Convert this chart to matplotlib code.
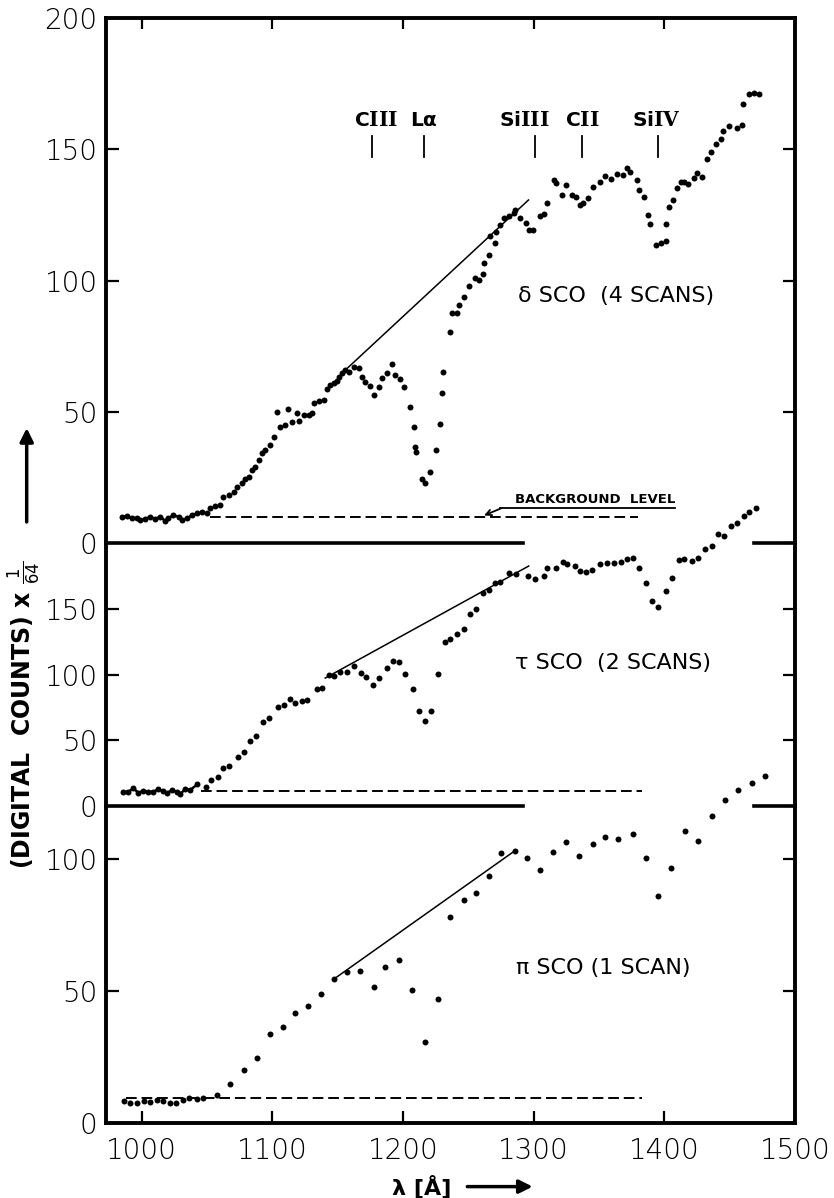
import matplotlib
matplotlib.use("Agg")
import matplotlib.pyplot as plt

plt.rcParams['font.family'] = ['DejaVu Sans']
plt.rcParams['mathtext.fontset'] = 'custom'
plt.rcParams['mathtext.rm'] = 'DejaVu Sans'
plt.rcParams['mathtext.bf'] = 'DejaVu Serif:bold'
plt.rcParams['mathtext.it'] = 'DejaVu Sans:italic'

# --- data (wavelength in Angstrom, counts / 64) ---
delta_wl = [984.6, 988.5, 992.3, 996.1, 998.7, 1002.5, 1006.4, 1010.2, 1014.0, 1017.8, 1020.4,
            1024.2, 1028.1, 1030.6, 1034.5, 1038.3, 1042.1, 1046.0, 1049.8, 1052.3, 1056.2, 1060.0,
            1062.5, 1066.4, 1070.2, 1072.8, 1076.6, 1079.1, 1081.7, 1084.3, 1086.8, 1089.4,
            1091.9, 1094.5, 1098.3, 1100.9, 1103.4, 1106.0, 1109.8, 1112.3, 1114.9, 1118.7,
            1120.0, 1123.8, 1127.7, 1130.2, 1131.5, 1135.3, 1139.2, 1141.7, 1144.3, 1146.8,
            1149.4, 1150.7, 1153.2, 1155.8, 1158.3, 1162.2, 1166.0, 1168.5, 1171.1, 1174.9,
            1177.5, 1181.3, 1183.9, 1187.7, 1191.5, 1194.1, 1197.9, 1200.5, 1205.6, 1208.1,
            1209.4, 1210.2, 1214.5, 1217.1, 1220.9, 1225.5, 1228.6, 1229.8, 1230.6, 1235.7,
            1237.5, 1241.3, 1242.6, 1246.4, 1250.3, 1255.4, 1257.9, 1261.2, 1261.8, 1265.6,
            1266.9, 1270.7, 1271.5, 1274.5, 1277.6, 1280.9, 1284.7, 1286.0, 1289.3, 1294.4,
            1296.2, 1299.5, 1304.7, 1308.2, 1310.3, 1315.4, 1317.4, 1321.8, 1325.1, 1329.4,
            1332.0, 1335.8, 1337.9, 1341.4, 1345.5, 1350.6, 1354.2, 1359.3, 1363.9, 1368.5,
            1371.1, 1374.1, 1378.7, 1380.5, 1384.3, 1387.4, 1389.4, 1393.3, 1397.1, 1400.9,
            1401.5, 1403.5, 1406.8, 1409.4, 1412.4, 1415.0, 1418.1, 1422.7, 1425.2, 1429.0,
            1432.4, 1435.4, 1439.3, 1443.1, 1445.1, 1449.5, 1455.9, 1459.7, 1460.5, 1464.8,
            1468.6, 1472.5]
delta_counts = [10.1, 10.4, 9.5, 9.7, 8.8, 9.3, 10.1, 9.3, 10.1, 8.6, 9.5, 10.7, 10.1, 8.8, 9.5,
                10.6, 11.4, 12.0, 11.4, 13.3, 14.2, 14.5,
                17.7, 18.4, 19.6, 21.5, 22.8, 24.3, 25.3, 27.9, 29.2, 31.7,
                34.2, 35.5, 37.4, 40.6, 49.9, 44.4, 45.0, 51.0, 46.3, 49.7,
                46.7, 48.8, 48.8, 49.5, 53.3, 54.3, 54.5, 58.6, 60.3, 60.9,
                61.9, 63.4, 64.7, 66.0, 65.3, 67.3, 66.6, 63.2, 61.5, 59.9,
                56.4, 59.6, 62.8, 64.7, 68.3, 64.1, 62.4, 59.6, 52.0, 44.4,
                36.8, 34.9, 24.3, 23.1, 27.3, 35.7, 45.4, 57.1, 65.2, 80.6,
                87.6, 87.6, 90.7, 93.9, 98.0, 100.9, 100.3, 102.6, 106.6, 109.8,
                117.0, 114.5, 118.7, 121.2, 123.7, 124.6, 125.9, 126.9, 123.7, 121.8,
                119.3, 119.3, 124.6, 125.3, 129.5, 138.4, 137.1, 132.6, 136.4, 132.6,
                132.0, 128.8, 129.7, 131.4, 135.8, 137.7, 139.9, 138.6, 140.6, 140.3,
                142.8, 141.5, 138.4, 134.5, 132.0, 125.0, 121.6, 113.6, 114.5, 115.1,
                121.5, 128.2, 130.7, 135.2, 137.7, 137.7, 136.8, 139.0, 141.1, 139.6,
                146.2, 148.8, 152.1, 153.8, 156.8, 158.9, 158.2, 159.3, 167.1, 171.2,
                171.6, 171.2]

tau_wl = [985.9, 989.8, 993.6, 997.4, 1001.3, 1005.1, 1008.9, 1012.7, 1016.6, 1019.1, 1023.0,
          1026.8, 1029.3, 1033.2, 1037.0, 1042.6, 1049.3, 1053.1, 1058.0, 1062.5, 1067.1,
          1073.5, 1077.9, 1083.0, 1087.6, 1092.7, 1097.3, 1103.9, 1108.5, 1113.1, 1117.5,
          1122.6, 1126.4, 1134.1, 1137.9, 1143.0, 1146.8, 1151.9, 1157.0, 1162.7, 1168.0,
          1171.9, 1176.7, 1181.6, 1187.7, 1192.3, 1197.1, 1201.7, 1207.4, 1211.9, 1217.1,
          1221.7, 1226.5, 1231.9, 1236.2, 1241.3, 1246.4, 1251.0, 1255.9, 1261.0, 1266.1,
          1270.7, 1274.5, 1280.9, 1286.8, 1295.7, 1300.8, 1307.7, 1310.3, 1316.7, 1322.3,
          1325.6, 1331.5, 1335.8, 1339.7, 1344.8, 1351.1, 1356.2, 1361.4, 1366.5, 1371.6,
          1375.9, 1380.5, 1385.6, 1390.7, 1395.3, 1400.9, 1406.1, 1411.2, 1415.0, 1421.4,
          1426.0, 1431.1, 1436.7, 1441.3, 1445.6, 1450.7, 1455.3, 1460.9, 1464.8, 1469.9]
tau_counts = [10.9, 10.9, 13.4, 10.1, 11.6, 10.9, 10.9, 12.7, 11.4, 9.6, 12.2, 10.9, 9.1, 12.7,
              12.2, 16.5, 14.7, 19.8, 21.8, 28.7, 30.7, 37.6, 41.4, 49.8, 53.4, 63.6, 66.9,
              75.3, 76.8, 81.4, 78.1, 80.1, 80.9, 89.0, 89.8, 99.7, 99.2, 101.7, 102.0, 106.8,
              101.2, 97.9, 92.3, 97.2, 105.0, 110.1, 109.9, 100.7, 89.3, 72.0, 64.8, 72.0,
              100.7, 125.2, 127.4, 131.0, 134.8, 145.8, 149.6, 161.8, 164.3, 169.4, 170.7,
              177.1, 176.3, 175.0, 172.5, 175.0, 181.4, 180.9, 186.0, 184.0, 182.7, 178.9,
              178.1, 179.6, 184.0, 185.2, 184.7, 185.7, 188.3, 188.8, 181.4, 169.4, 156.0,
              151.6, 163.6, 173.8, 187.3, 187.8, 186.5, 189.0, 195.9, 198.0, 206.8, 205.6,
              213.2, 215.2, 221.0, 224.0, 226.6]

pi_wl = [986.4, 991.0, 996.7, 1001.8, 1006.4, 1011.5, 1016.6, 1021.7, 1026.3, 1031.9, 1036.5,
         1042.1, 1046.7, 1057.4, 1067.7, 1078.4, 1088.1, 1097.8, 1108.0, 1117.5, 1127.2,
         1137.1, 1146.8, 1157.0, 1167.3, 1177.5, 1186.4, 1197.1, 1206.8, 1217.1, 1226.5,
         1236.2, 1246.9, 1255.9, 1266.1, 1275.3, 1285.5, 1294.9, 1305.2, 1314.9, 1324.8,
         1334.5, 1345.5, 1354.5, 1364.4, 1376.2, 1386.1, 1395.1, 1405.3, 1415.8, 1425.7,
         1436.7, 1446.4, 1456.6, 1466.8, 1476.8]
pi_counts = [8.3, 7.7, 7.7, 8.3, 8.1, 8.7, 8.5, 7.7, 7.5, 8.7, 9.6, 9.0, 9.3, 10.6, 14.8, 20.1,
             24.7, 33.7, 36.5, 41.5, 44.3, 48.9, 54.4, 57.0, 57.5, 51.6, 59.2, 61.8, 50.4, 30.6,
             46.8, 77.9, 84.5, 87.0, 93.6, 102.2, 102.8, 100.3, 95.9, 102.5, 106.3, 100.9,
             105.7, 108.1, 107.6, 109.5, 100.3, 86.0, 96.7, 110.4, 106.8, 116.4, 122.3, 125.9,
             128.7, 131.4]

# drawn continuum (start, end)
delta_cont_wl, delta_cont = [1157.0, 1296.0], [66.5, 130.7]
tau_cont_wl, tau_cont = [1140.4, 1296.2], [97.4, 182.7]
pi_cont_wl, pi_cont = [1146.8, 1286.0], [54.4, 103.2]

# background level (dashed)
bg_level = [10.0, 11.4, 9.4]
bg_start = [1052.0, 1045.0, 988.0]
bg_end = [1380.0, 1383.0, 1383.0]

star_labels = ["δ SCO  (4 SCANS)", "τ SCO  (2 SCANS)", "π SCO (1 SCAN)"]
star_label_pos = [(1363, 94.3), (1361, 109.0), (1353, 58.6)]

line_names = [r"C$\mathbf{III}$", "Lα", r"Si$\mathbf{III}$", r"C$\mathbf{II}$", r"Si$\mathbf{IV}$"]
line_wl = [1176, 1216, 1301, 1337, 1395]
line_label_wl = [1179, 1216, 1293, 1337, 1394]

ylims = [200, 200, 120]
yticks = [[0, 50, 100, 150, 200], [0, 50, 100, 150], [0, 50, 100]]
xticks = [1000, 1100, 1200, 1300, 1400, 1500]

XMIN, XMAX = 972.6, 1500.0
SPLIT_END = 1292.0     # zero line between panels is drawn only up to here
RIGHT_STUB = 1469.0    # plus a short stub at the right edge

fig = plt.figure(figsize=(8.34, 11.98), dpi=100)
left, width = 0.1271, 0.8261
ax_top = fig.add_axes([left, 0.5465, width, 0.4385])
ax_mid = fig.add_axes([left, 0.3272, width, 0.2193])
ax_bot = fig.add_axes([left, 0.0626, width, 0.2646])
axes = [ax_top, ax_mid, ax_bot]

series = [(delta_wl, delta_counts, delta_cont_wl, delta_cont),
          (tau_wl, tau_counts, tau_cont_wl, tau_cont),
          (pi_wl, pi_counts, pi_cont_wl, pi_cont)]

tick_font = dict(fontsize=20, fontweight='light', family='DejaVu Sans')

for i, ax in enumerate(axes):
    wl, counts, cwl, cval = series[i]
    ax.patch.set_visible(False)
    ax.set_xlim(XMIN, XMAX)
    ax.set_ylim(0, ylims[i])
    for sp in ax.spines.values():
        sp.set_linewidth(2.8)

    ax.plot(wl, counts, 'o', ms=4.3, color='black', mec='none', clip_on=False, zorder=3)
    if i < 2:
        nb = sum(1 for w in wl if w < 1045)
        ax.plot(wl[:nb], counts[:nb], '-', color='black', lw=1.8)
    ax.plot(cwl, cval, '-', color='black', lw=1.1)
    ax.plot([bg_start[i], bg_end[i]], [bg_level[i], bg_level[i]], color='black', lw=1.4,
            ls=(0, (5.5, 2.5)))
    ax.text(*star_label_pos[i], star_labels[i], fontsize=16, ha='center', va='center')

    ax.set_yticks(yticks[i], labels=[str(t) for t in yticks[i]], **tick_font)
    ax.tick_params(axis='y', direction='in', length=9, width=1.6, left=True, right=True, pad=6)

    if i < 2:
        f0 = (SPLIT_END - XMIN) / (XMAX - XMIN)
        f1 = (RIGHT_STUB - XMIN) / (XMAX - XMIN)
        ax.axhline(0, xmin=0, xmax=f0, color='black', lw=2.6, clip_on=False)
        ax.axhline(0, xmin=f1, xmax=1, color='black', lw=2.6, clip_on=False)

ax_top.spines['bottom'].set_visible(False)
ax_mid.spines['top'].set_visible(False)
ax_mid.spines['bottom'].set_visible(False)
ax_bot.spines['top'].set_visible(False)

ax_top.set_xticks(xticks[:-1])
ax_top.tick_params(axis='x', direction='in', top=True, bottom=False, labelbottom=False,
                   length=8, width=1.6)
ax_mid.set_xticks([])
ax_bot.set_xticks(xticks, labels=[str(t) for t in xticks], **tick_font)
ax_bot.tick_params(axis='x', direction='in', top=False, bottom=True, length=9, width=1.6, pad=10)

# line identifications
for name, wl, lx in zip(line_names, line_wl, line_label_wl):
    ax_top.plot([wl, wl], [147, 155], color='black', lw=1.3)
    ax_top.text(lx, 161, name, fontsize=14.5, fontweight='bold', ha='center', va='center')

# background level note
ax_top.text(1347, 16.6, "BACKGROUND  LEVEL", fontsize=9.5, fontweight='bold',
            ha='center', va='center')
ax_top.plot([1274, 1408], [13.3, 13.3], color='black', lw=1.3)
ax_top.annotate('', xy=(1262, 10.6), xytext=(1275, 13.3),
                arrowprops=dict(arrowstyle='->', lw=1.3, color='black', shrinkA=0, shrinkB=0))

# axis labels with arrows
fig.text(0.029, 0.403, r"(DIGITAL  COUNTS) x $\frac{1}{64}$", rotation=90, fontsize=17,
         fontweight='bold', ha='center', va='center')
fig.text(0.506, 0.0095, "λ [Å]", fontsize=16, fontweight='bold', ha='center', va='center')
for xy, xytext in [((0.032, 0.645), (0.032, 0.562)), ((0.642, 0.0095), (0.557, 0.0095))]:
    fig.add_artist(matplotlib.patches.FancyArrowPatch(
        xytext, xy, transform=fig.transFigure, arrowstyle='-|>', mutation_scale=20,
        lw=2.5, color='black'))

fig.savefig('out.png', dpi=100)
